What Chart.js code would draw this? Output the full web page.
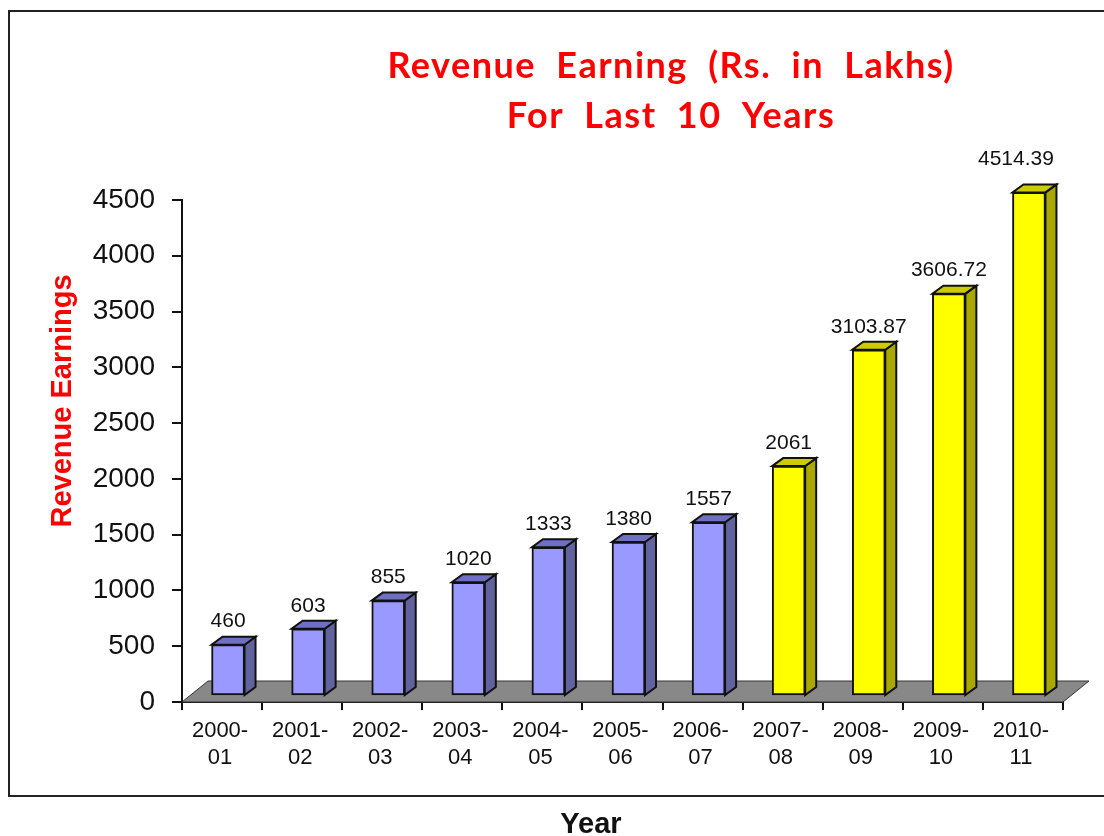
<!DOCTYPE html>
<html>
<head>
<meta charset="utf-8">
<title>Revenue Earning</title>
<script src="https://cdn.jsdelivr.net/npm/chart.js@4/dist/chart.umd.min.js"></script>
<style>
    html, body { margin: 0; padding: 0; background: #fff; overflow: hidden; }
    #wrap { width: 1104px; height: 836px; position: relative; }
</style>
</head>
<body>
<div id="wrap"><canvas id="revenueChart"></canvas></div>
<script>
var years = [['2000-', '01'], ['2001-', '02'], ['2002-', '03'], ['2003-', '04'], ['2004-', '05'], ['2005-', '06'],
    ['2006-', '07'], ['2007-', '08'], ['2008-', '09'], ['2009-', '10'], ['2010-', '11']];
var revenue = [460, 603, 855, 1020, 1333, 1380, 1557, 2061, 3103.87, 3606.72, 4514.39];
var valueLabels = ['460', '603', '855', '1020', '1333', '1380', '1557', '2061', '3103.87', '3606.72', '4514.39'];
var titleLines = ['Revenue Earning (Rs. in Lakhs)', 'For Last 10 Years'];
var yAxisTitle = 'Revenue Earnings';
var xAxisTitle = 'Year';

var firstYellow = 7;
var barShift = { x: 6, y: -6 };
var barDepth = { x: 11, y: -8 };
var floorDepth = { x: 26, y: -21 };
var sans = '"Liberation Sans", Arial, sans-serif';

function poly(ctx, pts, fill, stroke, width) {
    ctx.beginPath();
    ctx.moveTo(pts[0][0], pts[0][1]);
    for (var i = 1; i < pts.length; i++) ctx.lineTo(pts[i][0], pts[i][1]);
    ctx.closePath();
    ctx.fillStyle = fill;
    ctx.fill();
    ctx.lineWidth = width;
    ctx.strokeStyle = stroke;
    ctx.stroke();
}

var chart3d = {
    id: 'chart3d',
    beforeDraw: function (chart) {
        var ctx = chart.ctx;
        ctx.save();
        ctx.fillStyle = '#fff';
        ctx.fillRect(0, 0, chart.width, chart.height);
        // frame runs off the right edge of the picture
        ctx.strokeStyle = '#222';
        ctx.lineWidth = 2;
        ctx.strokeRect(9, 11, 1110, 785);
        ctx.restore();
    },
    beforeDatasetsDraw: function (chart) {
        var ctx = chart.ctx, a = chart.chartArea;
        ctx.save();
        poly(ctx, [[a.left, a.bottom], [a.right, a.bottom], [a.right + floorDepth.x, a.bottom + floorDepth.y],
            [a.left + floorDepth.x, a.bottom + floorDepth.y]], '#888888', '#333', 1);
        ctx.restore();
    },
    beforeDatasetDraw: function (chart, args) {
        var ctx = chart.ctx;
        ctx.save();
        ctx.translate(barShift.x, barShift.y);
        args.meta.data.forEach(function (bar, i) {
            var p = bar.getProps(['x', 'y', 'base', 'width'], true);
            var l = p.x - p.width / 2, r = p.x + p.width / 2;
            var yellow = i >= firstYellow;
            poly(ctx, [[r, p.y], [r + barDepth.x, p.y + barDepth.y], [r + barDepth.x, p.base + barDepth.y], [r, p.base]],
                yellow ? '#a8a800' : '#62629f', '#111', 2);
            poly(ctx, [[l, p.y], [r, p.y], [r + barDepth.x, p.y + barDepth.y], [l + barDepth.x, p.y + barDepth.y]],
                yellow ? '#cccc00' : '#6f6fc4', '#111', 2);
        });
    },
    afterDatasetDraw: function (chart, args) {
        var ctx = chart.ctx;
        ctx.restore();
        ctx.save();
        ctx.font = '21px ' + sans;
        ctx.fillStyle = '#111';
        ctx.textAlign = 'center';
        ctx.textBaseline = 'middle';
        args.meta.data.forEach(function (bar, i) {
            var last = i === revenue.length - 1;
            // the top label sits higher and a little left in the original
            ctx.fillText(valueLabels[i], bar.x + (last ? -7 : 6), bar.y - (last ? 39 : 29));
        });
        ctx.restore();
    },
    afterDraw: function (chart) {
        var ctx = chart.ctx;
        ctx.save();
        ctx.textAlign = 'center';
        ctx.textBaseline = 'middle';

        ctx.font = 'bold 36px Lato, "Open Sans", sans-serif';
        ctx.letterSpacing = '1.5px';
        ctx.wordSpacing = '10px';
        ctx.fillStyle = '#ff0000';
        ctx.fillText(titleLines[0], 671, 66);
        ctx.fillText(titleLines[1], 671, 116);
        ctx.letterSpacing = '0px';
        ctx.wordSpacing = '0px';

        ctx.font = 'bold 29px ' + sans;
        ctx.fillStyle = '#111';
        ctx.fillText(xAxisTitle, 591, 825);

        ctx.translate(63, 401);
        ctx.rotate(-Math.PI / 2);
        ctx.font = 'bold 29px ' + sans;
        ctx.fillStyle = '#ff0000';
        ctx.fillText(yAxisTitle, 0, 0);
        ctx.restore();
    }
};

new Chart(document.getElementById('revenueChart').getContext('2d'), {
    type: 'bar',
    data: {
        labels: years,
        datasets: [{
            data: revenue,
            backgroundColor: revenue.map(function (v, i) { return i >= firstYellow ? '#ffff00' : '#9999ff'; }),
            borderColor: '#111',
            borderWidth: 2,
            borderSkipped: false,
            barThickness: 33,
            clip: false
        }]
    },
    options: {
        responsive: true,
        maintainAspectRatio: false,
        animation: false,
        layout: { padding: { top: 200, right: 41, left: 0, bottom: 0 } },
        plugins: { legend: { display: false }, tooltip: { enabled: false } },
        scales: {
            x: {
                afterFit: function (scale) { scale.height = 134; },
                grid: { drawOnChartArea: false, color: '#111', tickLength: 8, lineWidth: 2 },
                border: { color: '#111', width: 2 },
                ticks: { color: '#111', maxRotation: 0, autoSkip: false, padding: 8, labelOffset: -2,
                    font: { family: sans, size: 22, lineHeight: 1.2 } }
            },
            y: {
                min: 0,
                max: 4500,
                afterFit: function (scale) { scale.width = 182; },
                grid: { drawOnChartArea: false, color: '#111', tickLength: 10, lineWidth: 2 },
                border: { color: '#111', width: 2 },
                ticks: { stepSize: 500, color: '#111', padding: 17,
                    callback: function (v) { return String(v); },
                    font: { family: sans, size: 28 } }
            }
        }
    },
    plugins: [chart3d]
});
</script>
</body>
</html>
